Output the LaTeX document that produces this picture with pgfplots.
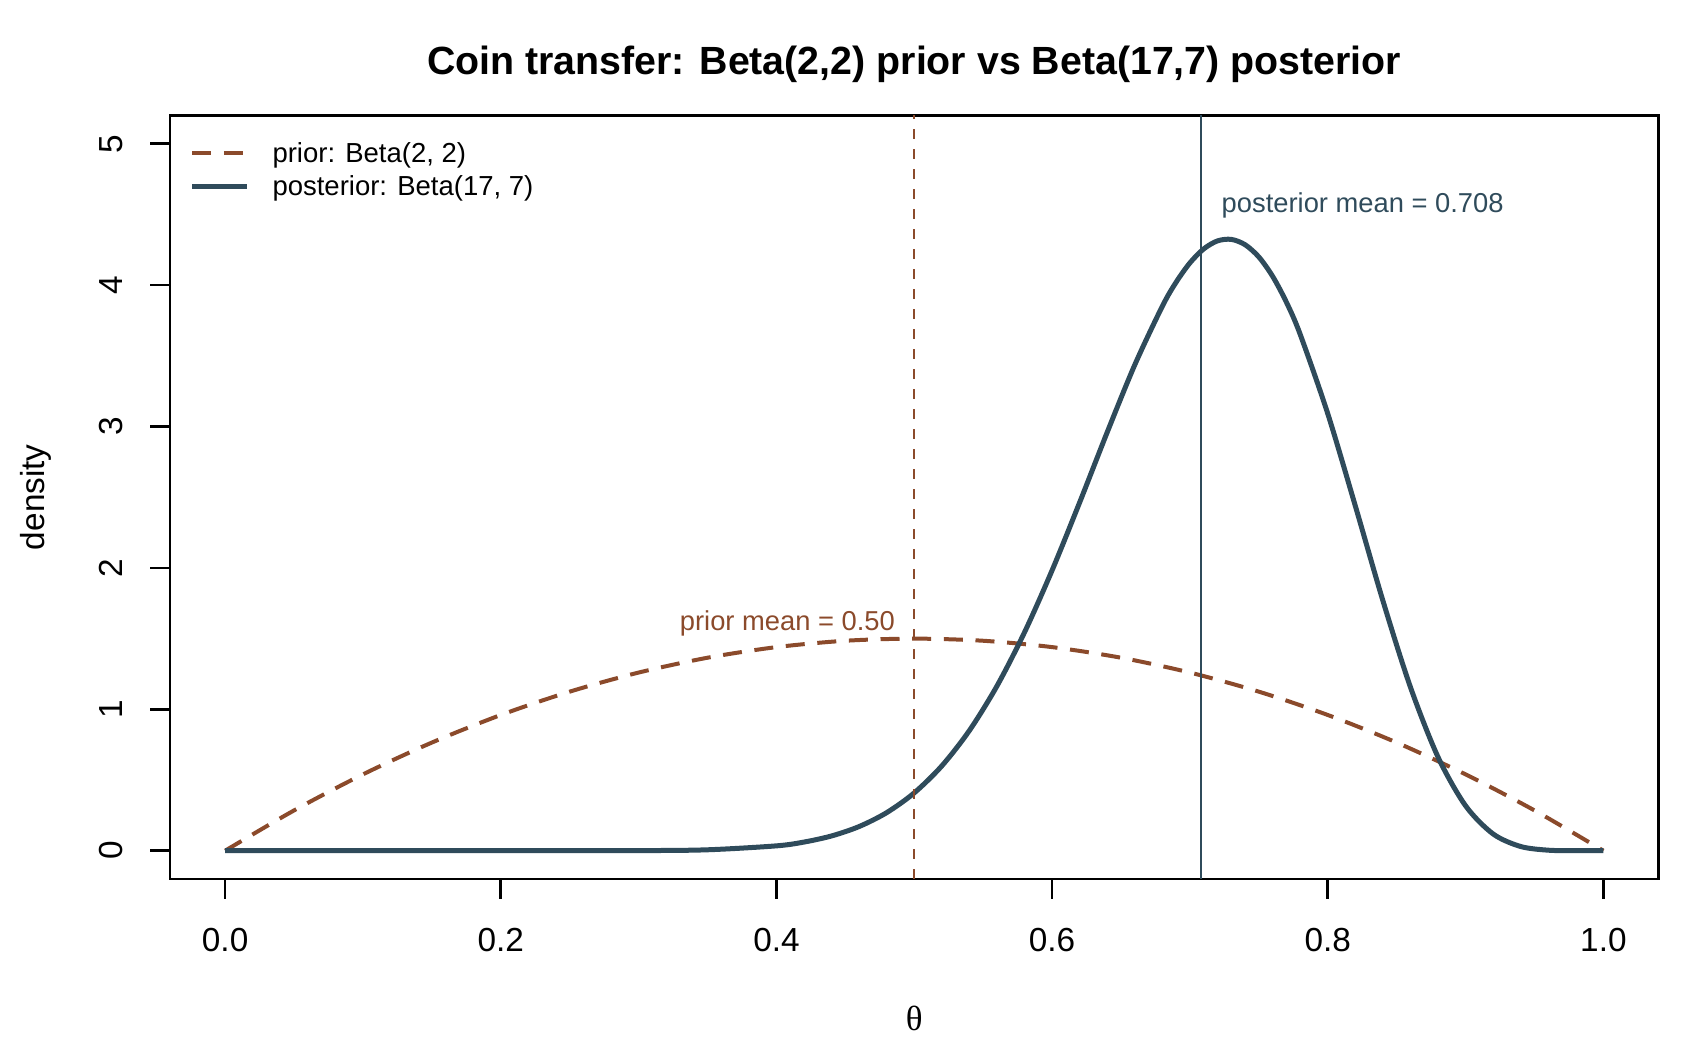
\documentclass[border=0pt]{standalone}
\usepackage{fontspec}
\setmainfont{Liberation Sans}
\newfontfamily\thetafont{Liberation Serif}
\usepackage{pgfplots}
\pgfplotsset{compat=1.18}

\definecolor{priorcol}{HTML}{8B4A2B}
\definecolor{postcol}{HTML}{2F4B5B}

\begin{document}
\begin{tikzpicture}
\useasboundingbox (0,0) rectangle (510pt,315pt);
\begin{axis}[
    at={(51pt,51.3pt)}, anchor=south west,
    scale only axis, width=446.55pt, height=229.05pt,
    xmin=-0.04, xmax=1.04, ymin=-0.2, ymax=5.2,
    axis line style={line width=0.8pt},
    tick align=outside, tick pos=left,
    major tick length=6pt,
    every tick/.style={black, line width=0.8pt},
    xtick={0,0.2,0.4,0.6,0.8,1},
    xticklabels={0.0,0.2,0.4,0.6,0.8,1.0},
    ytick={0,1,2,3,4,5},
    yticklabels={0,1,2,3,4,5},
    ticklabel style={font=\fontsize{10}{12}\selectfont, inner sep=0pt},
    xticklabel style={anchor=base, yshift=-15.6pt},
    yticklabel style={xshift=-8.2pt, rotate=90, anchor=base},
    every axis title shift=0pt,
    title={Coin transfer: Beta(2,2) prior vs Beta(17,7) posterior},
    title style={at={([yshift=12.3pt]rel axis cs:0.5,1)}, anchor=base, inner sep=0pt,
        font=\fontsize{11.8}{14}\selectfont\bfseries},
    xlabel={\thetafont θ},
    xlabel style={at={([yshift=-45.5pt]rel axis cs:0.5,0)}, anchor=base, inner sep=0pt,
        font=\fontsize{10.5}{12}\selectfont},
    ylabel={density},
    ylabel style={at={([xshift=-37.8pt]rel axis cs:0,0.5)}, rotate=0, anchor=base, inner sep=0pt,
        font=\fontsize{10}{12}\selectfont},
    legend style={at={([xshift=5.7pt,yshift=-7.9pt]rel axis cs:0,1)}, anchor=north west,
        draw=none, fill=none, inner sep=0pt, row sep=1.8pt,
        font=\fontsize{8.25}{9.9}\selectfont,
        nodes={inner xsep=2.7pt, inner ysep=0pt, text height=6pt, text depth=2pt}},
    legend cell align=left,
    legend image code/.code={
        \draw[#1] (0pt,0.7pt) -- (16.5pt,0.7pt);
        \path[draw=none, fill=none] (0pt,0pt) -- (21.4pt,0pt);
    },
]
% prior Beta(2,2)
\addplot[priorcol, line width=1.2pt, dash pattern=on 5.7pt off 3.8pt, smooth] coordinates {
    (0.00,0.000) (0.05,0.285) (0.10,0.540) (0.15,0.765) (0.20,0.960)
    (0.25,1.125) (0.30,1.260) (0.35,1.365) (0.40,1.440) (0.45,1.485)
    (0.50,1.500) (0.55,1.485) (0.60,1.440) (0.65,1.365) (0.70,1.260)
    (0.75,1.125) (0.80,0.960) (0.85,0.765) (0.90,0.540) (0.95,0.285)
    (1.00,0.000)
};
\addlegendentry{prior: Beta(2, 2)}
% posterior Beta(17,7)
\addplot[postcol, line width=1.5pt, line join=round, smooth] coordinates {
    (0.00,0) (0.10,0) (0.20,0.00001) (0.30,0.00087) (0.35,0.00656)
    (0.40,0.0344) (0.42,0.0613) (0.44,0.1045) (0.46,0.1710) (0.48,0.2694)
    (0.50,0.4092) (0.52,0.5999) (0.54,0.8499) (0.56,1.1648) (0.58,1.5448)
    (0.60,1.9830) (0.62,2.4633) (0.64,2.9596) (0.66,3.4365) (0.68,3.8510)
    (0.69,4.0209) (0.70,4.1574) (0.71,4.2564) (0.72,4.3131) (0.73,4.3238)
    (0.74,4.2862) (0.75,4.1995) (0.76,4.0626) (0.77,3.8796) (0.78,3.6524)
    (0.80,3.0914) (0.82,2.4390) (0.84,1.7690) (0.86,1.1569) (0.88,0.6628)
    (0.90,0.3180) (0.92,0.1185) (0.94,0.0298) (0.96,0.0037) (0.98,0.0001)
    (1.00,0)
};
\addlegendentry{posterior: Beta(17, 7)}
% mean lines
\addplot[priorcol, line width=0.65pt, dash pattern=on 3pt off 3pt, forget plot]
    coordinates {(0.5,-0.2) (0.5,5.2)};
\addplot[postcol, line width=0.6pt, forget plot]
    coordinates {(0.70833,-0.2) (0.70833,5.2)};
\node[anchor=base east, xshift=-5.6pt, inner sep=0pt, text=priorcol,
    font=\fontsize{8.2}{9.8}\selectfont] at (axis cs:0.5,1.555) {prior mean = 0.50};
\node[anchor=base west, xshift=5.9pt, inner sep=0pt, text=postcol,
    font=\fontsize{8.2}{9.8}\selectfont] at (axis cs:0.70833,4.513) {posterior mean = 0.708};
\end{axis}
\end{tikzpicture}
\end{document}
